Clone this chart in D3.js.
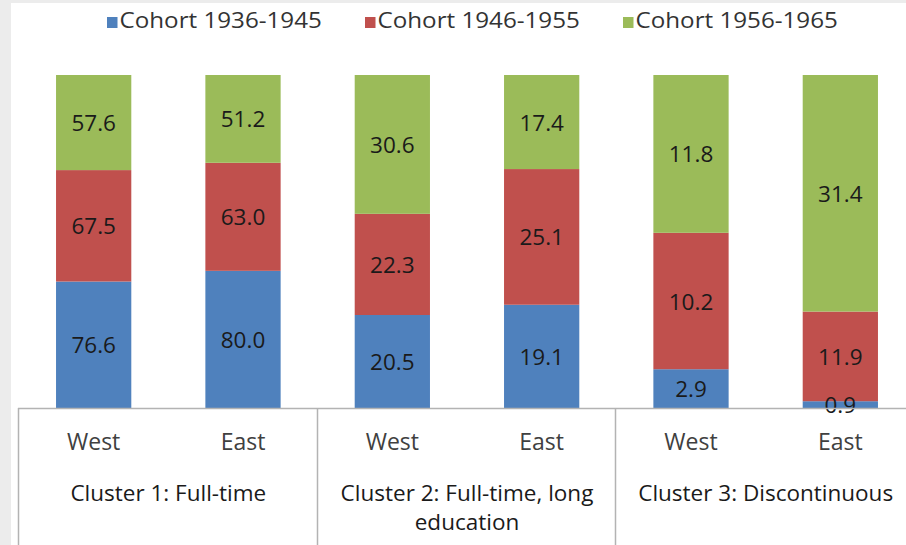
<!DOCTYPE html>
<html>
<head>
<meta charset="utf-8">
<script src="https://cdn.jsdelivr.net/npm/d3@7"></script>
<style>
html,body{margin:0;padding:0;background:#ececec;}
svg{display:block;}
text{font-family:"Open Sans",sans-serif;}
</style>
</head>
<body>
<svg id="chart" width="906" height="545"></svg>
<script>
// ---- data ----
const clusters = ["Cluster 1: Full-time", "Cluster 2: Full-time, long education", "Cluster 3: Discontinuous"];
const clusterLines = [["Cluster 1: Full-time"], ["Cluster 2: Full-time, long", "education"], ["Cluster 3: Discontinuous"]];
const regions = ["West", "East"];
const seriesNames = ["Cohort 1936-1945", "Cohort 1946-1955", "Cohort 1956-1965"];
const cohort1936 = [76.6, 80.0, 20.5, 19.1, 2.9, 0.9];
const cohort1946 = [67.5, 63.0, 22.3, 25.1, 10.2, 11.9];
const cohort1956 = [57.6, 51.2, 30.6, 17.4, 11.8, 31.4];
const colors = ["#4f81bd", "#c0504d", "#9bbb59"];

// ---- build table ----
const bars = [];
clusters.forEach((c, ci) => regions.forEach((r, ri) => {
  const i = ci * 2 + ri;
  bars.push({id: i, cluster: ci, region: r, s0: cohort1936[i], s1: cohort1946[i], s2: cohort1956[i]});
}));
const keys = ["s0", "s1", "s2"];
const stacked = d3.stack().keys(keys).offset(d3.stackOffsetExpand)(bars);

const svg = d3.select("#chart");
svg.append("rect").attr("x", 11).attr("y", 3).attr("width", 895).attr("height", 542).attr("fill", "#ffffff");

const x = d3.scaleBand().domain(bars.map(d => d.id)).range([19, 915]).paddingInner(0.496).paddingOuter(0.248);
const y = d3.scaleLinear().domain([0, 1]).range([408, 75]);

// bars
const layer = svg.append("g").selectAll("g").data(stacked).join("g").attr("fill", (d, i) => colors[i]);
layer.selectAll("rect").data(d => d).join("rect")
  .attr("x", d => x(d.data.id))
  .attr("width", x.bandwidth())
  .attr("y", d => y(d[1]))
  .attr("height", d => y(d[0]) - y(d[1]));

// value labels
stacked.forEach((s, si) => {
  svg.append("g").selectAll("text").data(s).join("text")
    .attr("x", d => x(d.data.id) + x.bandwidth() / 2)
    .attr("y", d => (y(d[0]) + y(d[1])) / 2)
    .attr("text-anchor", "middle")
    .attr("dominant-baseline", "central")
    .attr("font-size", 22.5)
    .attr("fill", "#1a1a1a")
    .text(d => d.data[keys[si]].toFixed(1));
});

// axis lines
const step = x.step();
const x0 = x.range()[0];
svg.append("line").attr("x1", x0 - 1).attr("x2", 906).attr("y1", 408.5).attr("y2", 408.5)
  .attr("stroke", "#b3b3b3").attr("stroke-width", 1.5);
clusters.forEach((c, ci) => {
  const bx = Math.round(x0 + ci * 2 * step) - 0.5;
  svg.append("line").attr("x1", bx).attr("x2", bx).attr("y1", 408).attr("y2", 545)
    .attr("stroke", "#b3b3b3").attr("stroke-width", 1.5);
});

// region labels
svg.append("g").selectAll("text").data(bars).join("text")
  .attr("x", d => x(d.id) + x.bandwidth() / 2)
  .attr("y", 450)
  .attr("text-anchor", "middle")
  .attr("font-size", 23)
  .attr("fill", "#404040")
  .text(d => d.region);

// cluster labels
clusterLines.forEach((lines, ci) => {
  const cx = x0 + (ci * 2 + 1) * step;
  lines.forEach((ln, li) => {
    svg.append("text")
      .attr("x", cx).attr("y", 501 + li * 28.5)
      .attr("text-anchor", "middle")
      .attr("font-size", 22.5)
      .attr("fill", "#1a1a1a")
      .text(ln);
  });
});

// legend
const legendX = [107, 365, 623];
seriesNames.forEach((n, i) => {
  const g = svg.append("g").attr("transform", `translate(${legendX[i]},0)`);
  g.append("rect").attr("x", 0).attr("y", 17).attr("width", 10.5).attr("height", 11).attr("fill", colors[i]);
  g.append("text").attr("x", 12.5).attr("y", 28.5).attr("font-size", 22).attr("fill", "#333333")
    .attr("transform", "translate(12.5,0) scale(1.1,1) translate(-12.5,0)")
    .text(n);
});
</script>
</body>
</html>
